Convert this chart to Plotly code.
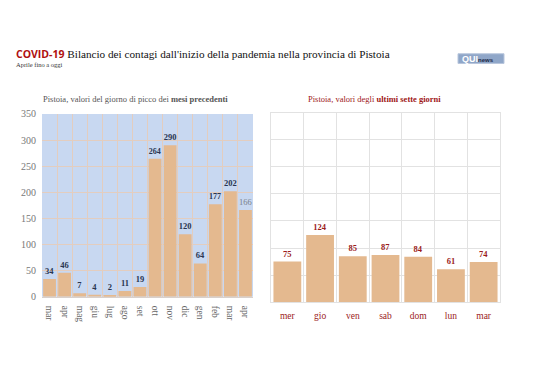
import plotly.graph_objects as go

months = ["mar", "apr", "mag", "giu", "lug", "ago", "set", "ott", "nov", "dic", "gen", "feb", "mar ", "apr "]
month_values = [34, 46, 7, 4, 2, 11, 19, 264, 290, 120, 64, 177, 202, 166]
days = ["mer", "gio", "ven", "sab", "dom", "lun", "mar"]
day_values = [75, 124, 85, 87, 84, 61, 74]

SERIF = "Liberation Serif"
BAR = "#e4b98f"

# page body has an 8px margin: figure is 530x372 placed at (8, 8)
W, H, OFF = 530, 372, 8


def px(x):
    return (x - OFF) / W


def py(y):
    return 1 - (y - OFF) / H


left_text = [f"<b>{v}</b>" for v in month_values[:-1]] + [str(month_values[-1])]
left_colors = ["#2a3550"] * (len(month_values) - 1) + ["#7a7f8c"]

fig = go.Figure()
fig.add_trace(go.Bar(
    x=months, y=month_values, xaxis="x", yaxis="y",
    marker=dict(color=BAR, line=dict(width=0)),
    text=left_text, textposition="outside", cliponaxis=False,
    textfont=dict(family=SERIF, size=8.5, color=left_colors),
    hoverinfo="skip",
))
fig.add_trace(go.Bar(
    x=days, y=day_values, xaxis="x2", yaxis="y2",
    marker=dict(color=BAR, line=dict(width=0)),
    text=[f"<b>{v}</b>" for v in day_values], textposition="outside", cliponaxis=False,
    textfont=dict(family=SERIF, size=8.5, color="#9b1b1b"),
    hoverinfo="skip",
))

fig.update_layout(
    width=W, height=H,
    margin=dict(l=0, r=0, t=0, b=0),
    paper_bgcolor="white",
    showlegend=False,
    bargap=0.15,
    xaxis=dict(domain=[px(42), px(253)], anchor="y", type="category",
               tickson="boundaries", showgrid=True, gridcolor="#e3cdbf", gridwidth=1,
               tickangle=90, ticks="", tickfont=dict(family=SERIF, size=9.5, color="#666"),
               ticklabelstandoff=6,
               showline=True, linecolor="#d8d0cc", linewidth=1),
    yaxis=dict(domain=[py(300.5), py(112)], anchor="x", range=[0, 350], dtick=50,
               showgrid=True, gridcolor="#e3cdbf", gridwidth=1, zeroline=False,
               tickfont=dict(family=SERIF, size=10, color="#777"), ticks="",
               ticklabelstandoff=5),
    xaxis2=dict(domain=[px(271), px(500)], anchor="y2", type="category",
                tickson="boundaries", showgrid=True, gridcolor="#e2e2e2", gridwidth=1,
                ticks="", tickfont=dict(family=SERIF, size=9.5, color="#9b1b1b"),
                ticklabelstandoff=4,
                showline=True, linecolor="#e2e2e2", mirror=True, linewidth=1),
    yaxis2=dict(domain=[py(306), py(110.7)], anchor="x2", range=[0, 350], dtick=50,
                showgrid=True, gridcolor="#e2e2e2", gridwidth=1, zeroline=False,
                showticklabels=False, ticks="",
                showline=True, linecolor="#e2e2e2", mirror=True, linewidth=1),
    plot_bgcolor="white",
)

# left plot blue background
fig.add_shape(type="rect", xref="x domain", yref="y domain", x0=0, x1=1, y0=0, y1=1,
              fillcolor="#c8d8f1", line=dict(width=0), layer="below")

fig.add_annotation(
    x=px(14), y=py(50), xref="paper", yref="paper", xanchor="left", yanchor="middle",
    showarrow=False,
    text=("<span style='font-family:Open Sans;font-weight:bold;font-size:10.5px;color:#b01010'>COVID-19</span>"
          " Bilancio dei contagi dall'inizio della pandemia nella provincia di Pistoia"),
    font=dict(family=SERIF, size=11.2, color="#111"),
)
fig.add_annotation(
    x=px(14), y=py(61.5), xref="paper", yref="paper", xanchor="left", yanchor="middle",
    showarrow=False, text="Aprile fino a oggi",
    font=dict(family=SERIF, size=6.5, color="#333"),
)
fig.add_annotation(
    x=px(135), y=py(96.5), xref="paper", yref="paper", xanchor="center", yanchor="middle",
    showarrow=False, text="Pistoia, valori del giorno di picco dei <b>mesi precedenti</b>",
    font=dict(family=SERIF, size=8.5, color="#555"),
)
fig.add_annotation(
    x=px(374), y=py(96.5), xref="paper", yref="paper", xanchor="center", yanchor="middle",
    showarrow=False, text="Pistoia, valori degli <b>ultimi sette giorni</b>",
    font=dict(family=SERIF, size=8.5, color="#a01818"),
)

# logo
fig.add_shape(type="rect", xref="paper", yref="paper",
              x0=px(458), x1=px(504), y0=py(60), y1=py(50),
              fillcolor="#8fa6c8", line=dict(color="#b8c6dc", width=1))
fig.add_annotation(
    x=px(460), y=py(55), xref="paper", yref="paper", xanchor="left", yanchor="middle",
    showarrow=False,
    text="<b>QUI</b><span style='font-size:6px;color:#1c2a4a'><b>news</b></span>",
    font=dict(family="Arial", size=9, color="white"),
)

fig.write_html("out.html")
